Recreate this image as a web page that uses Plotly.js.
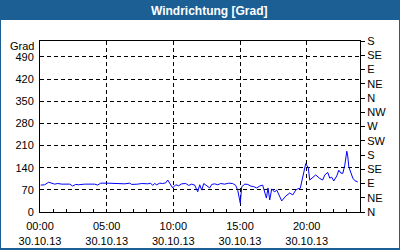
<!DOCTYPE html>
<html>
<head>
<meta charset="utf-8">
<script src="https://cdn.plot.ly/plotly-3.0.1.min.js"></script>
<style>
  html, body { margin: 0; padding: 0; background: #1b5f95; }
  #chart { width: 400px; height: 250px; }
</style>
</head>
<body>
<div id="chart"></div>
<script>
// Time in hours since 30.10.13 00:00
const hours = [0.05,0.35,0.65,0.88,1.1,1.33,1.63,2.23,2.45,2.68,2.9,3.35,4.1,4.33,4.55,5.08,5.6,5.98,6.35,6.73,6.88,7.33,7.63,8.08,8.3,8.45,8.6,8.75,8.98,9.2,9.43,9.58,9.73,9.95,10.18,10.4,10.63,10.93,11.15,11.38,11.6,11.83,11.98,12.13,12.28,12.5,12.73,12.88,13.1,13.33,13.55,13.85,14.15,14.45,14.68,14.83,15.02,15.13,15.36,15.58,15.8,16.03,16.25,16.48,16.7,16.98,17.1,17.23,17.38,17.6,17.75,18.13,18.43,18.73,18.96,19.18,19.33,19.52,19.7,19.85,19.93,20.0,20.12,20.23,20.38,20.68,20.98,21.2,21.36,21.58,21.73,21.88,22.03,22.26,22.41,22.56,22.71,22.86,23.01,23.08,23.16,23.31,23.46,23.61,23.76,23.83];
const direction = [85,86,94,90,88,90,88,88,82,87,86,88,88,85,91,91,90,91,89,91,87,88,90,89,91,84,90,86,91,90,92,101,90,76,86,83,89,90,84,88,85,64,86,69,90,84,76,87,89,86,90,88,91,90,84,69,28,80,88,87,82,80,76,82,85,44,76,38,73,63,70,35,50,60,54,69,73,75,111,138,153,148,140,101,107,117,106,101,117,125,107,110,98,114,132,123,122,148,192,177,143,123,107,99,95,95];

const xTickVals = [0,5,10,15,20];
const xTickText = ["00:00<br>30.10.13","05:00<br>30.10.13","10:00<br>30.10.13","15:00<br>30.10.13","20:00<br>30.10.13"];
const yTickVals = [0,70,140,210,280,350,420,490];
const compassVals = [0,45,90,135,180,225,270,315,360,405,450,495,540];
const compassText = ["N","NE","E","SE","S","SW","W","NW","N","NE","E","SE","S"];

const font = {family: "Liberation Sans, Arial, sans-serif", size: 11, color: "#000"};
const L = 40, R = 40, T = 41, B = 38;
const pw = 400 - L - R, ph = 250 - T - B;
const px = v => (v - L) / pw;
const py = v => (250 - B - v) / ph;

const trace = {
  x: hours, y: direction, type: "scatter", mode: "lines",
  line: {color: "#0000ff", width: 1}, hoverinfo: "skip", showlegend: false
};
const dummy = {x: [0], y: [0], yaxis: "y2", mode: "none", showlegend: false, hoverinfo: "skip"};

const layout = {
  width: 400, height: 250,
  margin: {l: L, r: R, t: T, b: B, pad: 0},
  paper_bgcolor: "#1b5f95",
  plot_bgcolor: "#ffffff",
  font: font,
  title: {
    text: "<b>Windrichtung [Grad]</b>",
    font: {family: "Liberation Sans, Arial, sans-serif", size: 12, color: "#ffffff"},
    x: 0.523, xanchor: "center", xref: "container",
    y: 1 - 10.5/250, yanchor: "middle", yref: "container"
  },
  xaxis: {
    range: [0, 24], fixedrange: true,
    tickvals: xTickVals, ticktext: xTickText,
    ticks: "inside", ticklen: 3, tickcolor: "#000",
    minor: {dtick: 1, tick0: 0, ticks: "inside", ticklen: 3, tickcolor: "#000", showgrid: false},
    showgrid: true, gridcolor: "#000", griddash: "4px,3px", gridwidth: 1,
    showline: true, linecolor: "#000", linewidth: 1, mirror: true,
    zeroline: false, tickfont: font, ticklabelstandoff: 4
  },
  yaxis: {
    range: [0, 540], fixedrange: true,
    tickvals: yTickVals,
    ticks: "", showgrid: true, gridcolor: "#000", griddash: "4px,3px", gridwidth: 1,
    showline: true, linecolor: "#000", linewidth: 1, mirror: true,
    zeroline: false, tickfont: font, ticklabelstandoff: 3
  },
  yaxis2: {
    range: [0, 540], overlaying: "y", side: "right", fixedrange: true,
    tickvals: compassVals, ticktext: compassText,
    ticks: "outside", ticklen: 4, tickcolor: "#000",
    showgrid: false, zeroline: false, showline: false,
    tickfont: font, ticklabelstandoff: 0
  },
  shapes: [
    {type: "rect", xref: "paper", yref: "paper", layer: "below",
     x0: px(1), x1: px(399), y0: py(248), y1: py(20),
     fillcolor: "#ffffff", line: {width: 0}}
  ],
  annotations: [
    {text: "Grad", xref: "paper", yref: "paper", x: px(36), y: py(46),
     xanchor: "right", yanchor: "middle", showarrow: false, font: font}
  ]
};

Plotly.newPlot("chart", [trace, dummy], layout, {staticPlot: true, displayModeBar: false});
</script>
</body>
</html>
